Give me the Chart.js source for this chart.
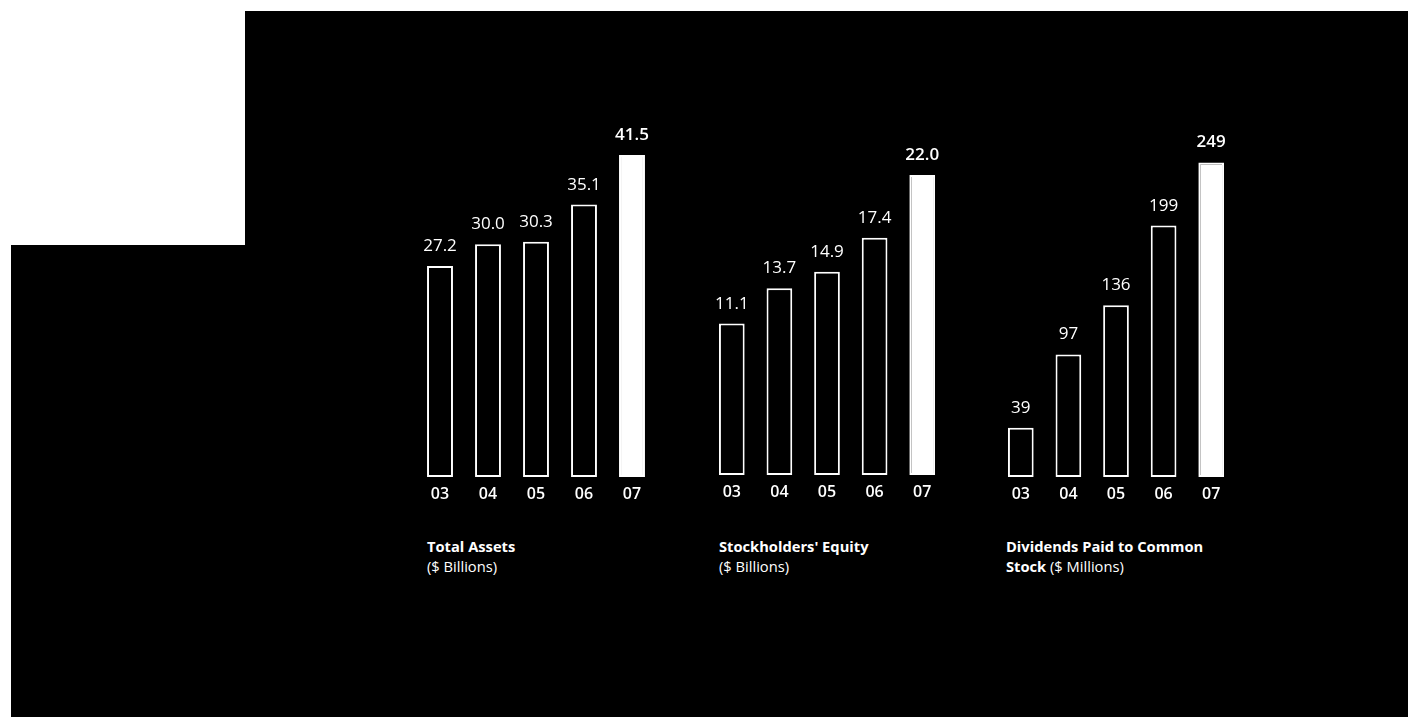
<!DOCTYPE html>
<html>
<head>
<meta charset="utf-8">
<script src="https://cdn.jsdelivr.net/npm/chart.js@4"></script>
<style>
  html, body { margin: 0; padding: 0; background: #fff; width: 1408px; height: 717px; overflow: hidden; position: relative; font-family: "Open Sans", sans-serif; }
  .bg { position: absolute; background: #000; }
  .box { position: absolute; }
  .title { position: absolute; color: #fff; font-size: 14.7px; line-height: 20px; white-space: nowrap; }
  .title b { font-weight: 700; }
</style>
</head>
<body>
<div class="bg" style="left:245px; top:11px; right:0; bottom:0"></div>
<div class="bg" style="left:11px; top:245px; width:240px; bottom:0"></div>

<div class="box" style="left:416px; top:89px; width:240px; height:418px"><canvas id="assetsChart"></canvas></div>
<div class="box" style="left:708px; top:134px; width:238px; height:371px"><canvas id="equityChart"></canvas></div>
<div class="box" style="left:997px; top:98px; width:238px; height:409px"><canvas id="dividendsChart"></canvas></div>

<div class="title" style="left:427px; top:536px"><b>Total Assets</b><br>($ Billions)</div>
<div class="title" style="left:719px; top:536px"><b>Stockholders' Equity</b><br>($ Billions)</div>
<div class="title" style="left:1006px; top:536px"><b>Dividends Paid to Common</b><br><b>Stock</b> ($ Millions)</div>

<script>
const years = ["03", "04", "05", "06", "07"];
const totalAssets = [27.2, 30.0, 30.3, 35.1, 41.5];
const equity = [11.1, 13.7, 14.9, 17.4, 22.0];
const dividends = [39, 97, 136, 199, 249];

Chart.defaults.font.family = "'Open Sans', sans-serif";
Chart.defaults.color = "#fff";

// numbers above the bars, last year a bit heavier
const valueLabels = {
  id: "valueLabels",
  afterDatasetsDraw(chart, args, opts) {
    const ctx = chart.ctx;
    const meta = chart.getDatasetMeta(0);
    const data = chart.data.datasets[0].data;
    ctx.save();
    ctx.fillStyle = "#fff";
    ctx.textAlign = "center";
    ctx.textBaseline = "alphabetic";
    meta.data.forEach((bar, i) => {
      const last = i === data.length - 1;
      ctx.font = `${last ? 600 : 400} 17px "Open Sans"`;
      ctx.fillText(data[i].toFixed(opts.decimals), bar.x, bar.y - 15);
    });
    ctx.restore();
  }
};

function createBarChart(id, values, max, decimals) {
  const ctx = document.getElementById(id);
  return new Chart(ctx, {
    type: "bar",
    data: {
      labels: years,
      datasets: [{
        data: values,
        backgroundColor: values.map((v, i) => i === values.length - 1 ? "#fff" : "#000"),
        borderColor: "#fff",
        borderWidth: 2,
        borderSkipped: false,
        categoryPercentage: 1,
        barPercentage: 0.54
      }]
    },
    options: {
      responsive: true,
      maintainAspectRatio: false,
      animation: false,
      layout: { padding: 0 },
      plugins: {
        legend: { display: false },
        tooltip: { enabled: false },
        valueLabels: { decimals: decimals }
      },
      scales: {
        x: {
          grid: { display: false, drawTicks: false },
          border: { display: false },
          ticks: { color: "#fff", padding: 8, font: { size: 16, weight: 600 } },
          afterFit: scale => { scale.height = 30; }
        },
        y: { display: false, min: 0, max: max }
      }
    },
    plugins: [valueLabels]
  });
}

createBarChart("assetsChart", totalAssets, 50, 1);
createBarChart("equityChart", equity, 25, 1);
createBarChart("dividendsChart", dividends, 300, 0);
</script>
</body>
</html>
